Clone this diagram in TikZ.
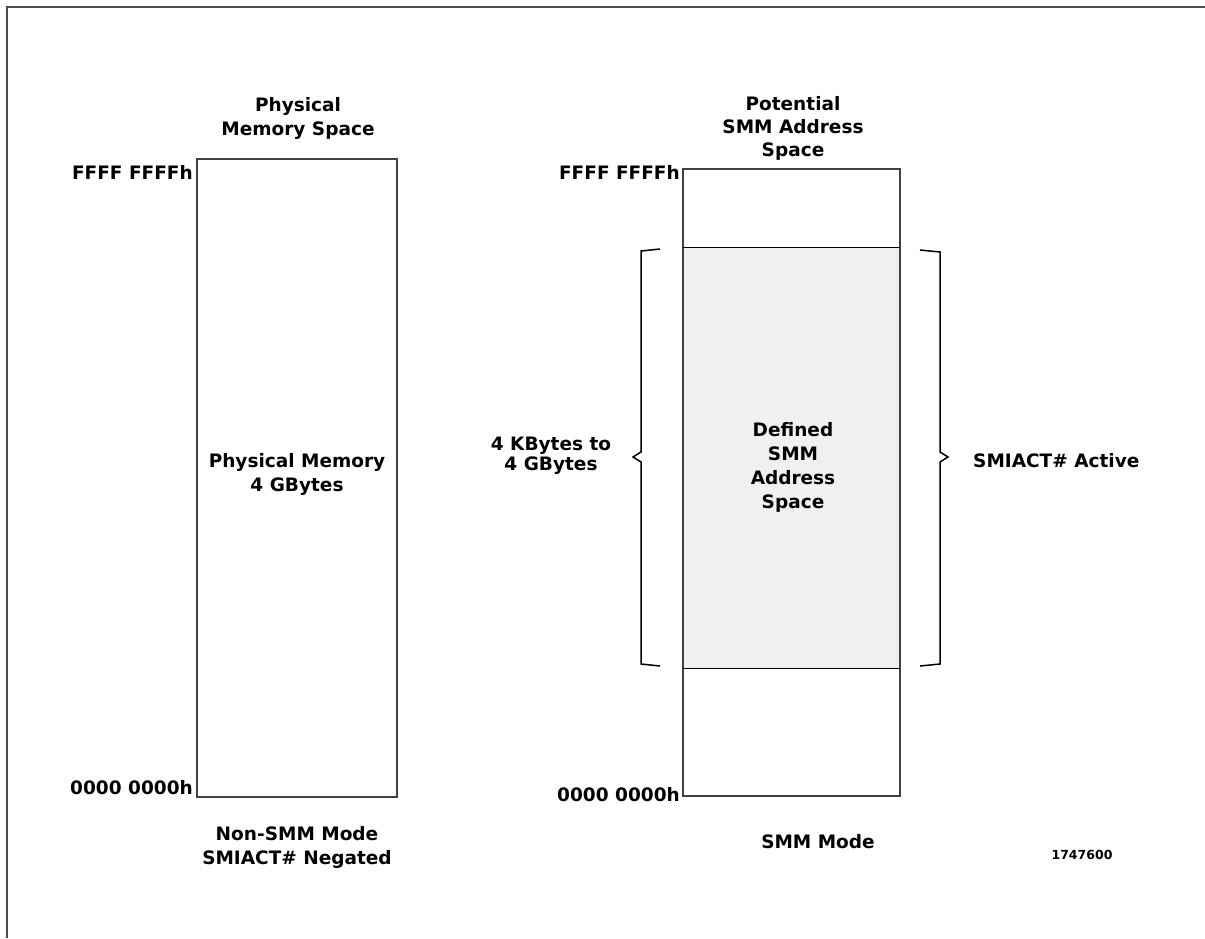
\documentclass[tikz,border=0pt]{standalone}
\usepackage{fontspec}
\setmainfont{DejaVu Sans}
\begin{document}
\begin{tikzpicture}[x=1pt,y=-1pt,
  lbl/.style={font=\fontsize{18.5}{24}\selectfont\bfseries, inner sep=0pt, align=center},
  frameline/.style={draw=black!70, line width=2.2pt},
  boxline/.style={draw=black!75, line width=1.3pt},
  brace/.style={draw=black, line width=1.5pt, line join=miter}]
\useasboundingbox (0,0) rectangle (1205,938);
% frame
\draw[frameline] (7,938) -- (7,7) -- (1205,7);
% left box
\node[boxline, minimum width=200pt, minimum height=638pt, inner sep=0pt] (lbox) at (297,478) {};
\node[lbl] (lboxt) at (297,474) {Physical Memory\\4 GBytes};
\node[lbl] (ltitle) at (298,118) {Physical\\Memory Space};
\node[lbl, anchor=east] (ltop) at (193,172) {FFFF FFFFh};
\node[lbl, anchor=east] (lbot) at (193,788) {0000 0000h};
\node[lbl] (lcap) at (297,847) {Non-SMM Mode\\SMIACT\# Negated};
% right box
\node[fill=black!6, minimum width=217pt, minimum height=420pt, inner sep=0pt] (def) at (791.5,458) {};
\node[boxline, minimum width=217pt, minimum height=627pt, inner sep=0pt] (rbox) at (791.5,482.5) {};
\draw[black, line width=1.3pt] (def.north west) -- (def.north east);
\draw[black, line width=1.3pt] (def.south west) -- (def.south east);
\node[lbl] (deft) at (793,467) {Defined\\SMM\\Address\\Space};
\node[lbl, font=\fontsize{18.5}{23}\selectfont\bfseries] (rtitle) at (793,128) {Potential\\SMM Address\\Space};
\node[lbl, anchor=east] (rtop) at (680,172) {FFFF FFFFh};
\node[lbl, anchor=east] (rbot) at (680,795) {0000 0000h};
\node[lbl] (rcap) at (818,842) {SMM Mode};
\node[lbl, font=\fontsize{18.5}{20}\selectfont\bfseries] (size) at (551,456) {4 KBytes to\\4 GBytes};
\node[lbl, anchor=west] (act) at (973,461) {SMIACT\# Active};
\node[font=\fontsize{12.5}{14}\selectfont\bfseries, inner sep=0pt] (fig) at (1082,855) {1747600};
% braces
\coordinate (lb1) at (660,249);
\coordinate (lb2) at (660,666);
\draw[brace] (lb1) -- (641,251) -- (641,452) -- (633,457) -- (641,462) -- (641,664) -- (lb2);
\coordinate (rb1) at (920,250);
\coordinate (rb2) at (920,666);
\draw[brace] (rb1) -- (940,252) -- (940,452) -- (948,457) -- (940,462) -- (940,664) -- (rb2);
\end{tikzpicture}
\end{document}
